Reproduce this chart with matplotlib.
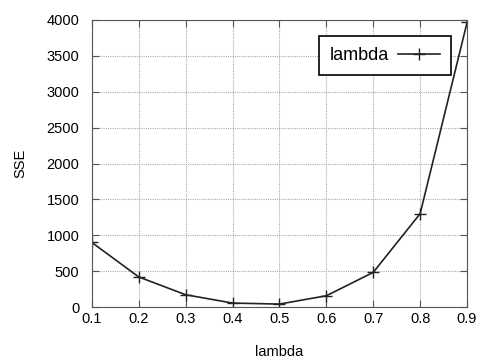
import matplotlib
matplotlib.use("Agg")
import matplotlib.pyplot as plt

plt.rcParams['font.family'] = ['Liberation Sans', 'DejaVu Sans']

lam = [0.1, 0.2, 0.3, 0.4, 0.5, 0.6, 0.7, 0.8, 0.9]
sse = [900, 420, 172, 56, 42, 158, 484, 1302, 3965]
xticks = [0.1, 0.2, 0.3, 0.4, 0.5, 0.6, 0.7, 0.8, 0.9]
yticks = [0, 500, 1000, 1500, 2000, 2500, 3000, 3500, 4000]

fig = plt.figure(figsize=(4.81, 3.63), dpi=100)
ax = fig.add_axes([0.191, 0.154, 0.78, 0.791])

ax.plot(lam, sse, color='#222222', lw=1.2, marker='+', ms=8, mew=1.0, label='lambda')

ax.set_xlim(0.1, 0.9)
ax.set_ylim(0, 4000)
ax.set_xticks(xticks)
ax.set_xticklabels([str(t) for t in xticks])
ax.set_yticks(yticks)
ax.grid(True, color='#aaaaaa', linestyle=(0, (1, 1)), linewidth=0.8)
ax.tick_params(direction='in', top=True, right=True, labelsize=10.5, length=5, color='#555555')
ax.tick_params(axis='y', pad=9)
for s in ax.spines.values():
    s.set_color('#555555')

ax.set_xlabel('lambda', fontsize=10.5, labelpad=14)
ax.set_ylabel('SSE', fontsize=10.5, labelpad=14)

leg = ax.legend(loc='upper right', markerfirst=False, fontsize=13, fancybox=False,
                edgecolor='black', framealpha=1, borderpad=0.6, handlelength=2.3,
                handletextpad=0.5, bbox_to_anchor=(0.98, 0.975))
leg.get_frame().set_linewidth(1.2)

fig.savefig('out.png', dpi=100)
